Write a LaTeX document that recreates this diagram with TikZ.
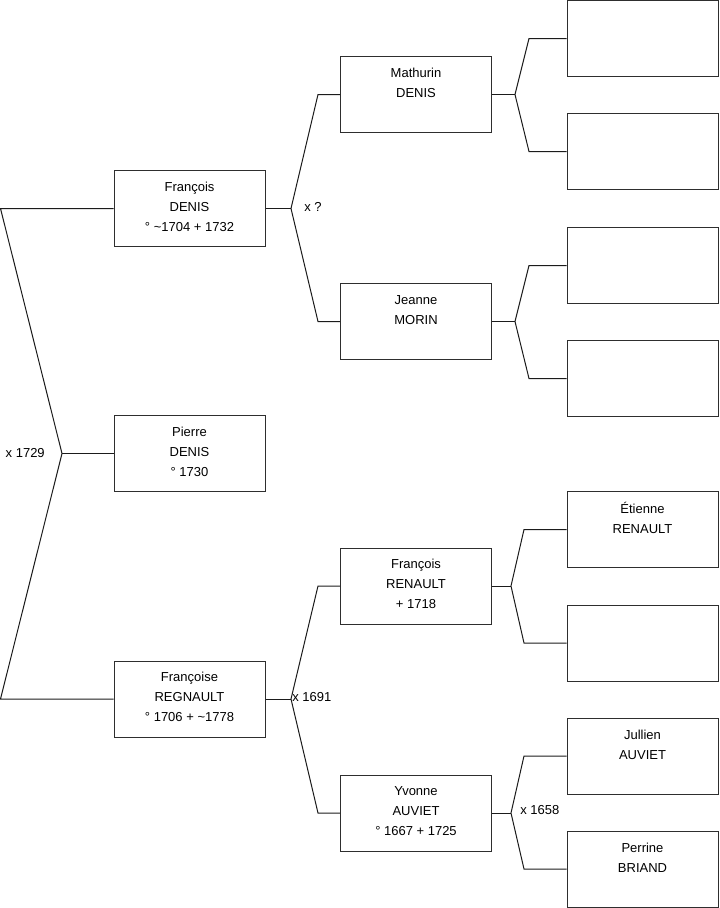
\documentclass[tikz,border=0pt]{standalone}
\usepackage{fontspec}
\setmainfont{Liberation Sans}
\usepackage{tikz}
\usetikzlibrary{positioning,calc}
\definecolor{ink}{HTML}{1B1B1B}
\definecolor{boxline}{HTML}{2E2E2E}

\begin{document}
\begin{tikzpicture}[x=0.75pt,y=-0.75pt]
    \tikzset{
      person/.style={draw=boxline,line width=0.75pt,minimum width=113.25pt,minimum height=57pt,inner sep=0pt,align=center,font=\fontsize{9.75}{15}\selectfont},
      link/.style={draw=ink,line width=0.75pt},
      union/.style={inner sep=0pt,font=\fontsize{9.75}{11}\selectfont}
    }
    \useasboundingbox (0,0) rectangle (719,908);
    \node[person] (francois) at (189.5,208.5) {François\\DENIS\\° \textasciitilde1704 + 1732\vspace{2.5pt}};
    \node[person] (pierre) at (189.5,453.5) {Pierre\\DENIS\\° 1730\vspace{2.5pt}};
    \node[person] (francoise) at (189.5,699) {Françoise\\REGNAULT\\° 1706 + \textasciitilde1778\vspace{2.5pt}};
    \node[person] (mathurin) at (416,94.5) {Mathurin\\DENIS\\~\vspace{2.5pt}};
    \node[person] (jeanne) at (416,321.5) {Jeanne\\MORIN\\~\vspace{2.5pt}};
    \node[person] (renault) at (416,586) {François\\RENAULT\\+ 1718\vspace{2.5pt}};
    \node[person] (yvonne) at (416,813) {Yvonne\\AUVIET\\° 1667 + 1725\vspace{2.5pt}};
    \node[person] (gp1) at (642.5,38.5) {};
    \node[person] (gp2) at (642.5,151.5) {};
    \node[person] (gp3) at (642.5,265.5) {};
    \node[person] (gp4) at (642.5,378.5) {};
    \node[person] (etienne) at (642.5,529.5) {Étienne\\RENAULT\\~\vspace{2.5pt}};
    \node[person] (gp6) at (642.5,643) {};
    \node[person] (jullien) at (642.5,756) {Jullien\\AUVIET\\~\vspace{2.5pt}};
    \node[person] (perrine) at (642.5,869) {Perrine\\BRIAND\\~\vspace{2.5pt}};
    \node[union,anchor=east] (m0) at (45,453) {x 1729};
    \node[union,anchor=west] (m1) at (304,207) {x ?};
    \node[union,anchor=west] (m2) at (292,697) {x 1691};
    \node[union,anchor=west] (m3) at (520,810) {x 1658};
    \coordinate (j0) at (62,453.5);
    \coordinate (a1) at (0.5,208.5);
    \coordinate (a2) at (0.5,699);
    \coordinate (j1) at (291,208.5);
    \coordinate (b1) at (318,94.5);
    \coordinate (b2) at (318,321.5);
    \coordinate (j2) at (291,699);
    \coordinate (b3) at (318,586);
    \coordinate (b4) at (318,813);
    \coordinate (j3) at (515,94.5);
    \coordinate (c1) at (529,38.5);
    \coordinate (c2) at (529,151.5);
    \coordinate (j4) at (515,321.5);
    \coordinate (c3) at (529,265.5);
    \coordinate (c4) at (529,378.5);
    \coordinate (j5) at (511,586);
    \coordinate (c5) at (524,529.5);
    \coordinate (c6) at (524,643);
    \coordinate (j6) at (511,813);
    \coordinate (c7) at (524,756);
    \coordinate (c8) at (524,869);
    \draw[link] (pierre.west) -- (j0);
    \draw[link] (francois.west) -- (a1) -- (j0) -- (a2) -- (francoise.west);
    \draw[link] (francois.east) -- (j1);
    \draw[link] (mathurin.west) -- (b1) -- (j1) -- (b2) -- (jeanne.west);
    \draw[link] (francoise.east) -- (j2);
    \draw[link] (renault.west) -- (b3) -- (j2) -- (b4) -- (yvonne.west);
    \draw[link] (mathurin.east) -- (j3);
    \draw[link] (gp1.west) -- (c1) -- (j3) -- (c2) -- (gp2.west);
    \draw[link] (jeanne.east) -- (j4);
    \draw[link] (gp3.west) -- (c3) -- (j4) -- (c4) -- (gp4.west);
    \draw[link] (renault.east) -- (j5);
    \draw[link] (etienne.west) -- (c5) -- (j5) -- (c6) -- (gp6.west);
    \draw[link] (yvonne.east) -- (j6);
    \draw[link] (jullien.west) -- (c7) -- (j6) -- (c8) -- (perrine.west);
  \end{tikzpicture}
\end{document}
